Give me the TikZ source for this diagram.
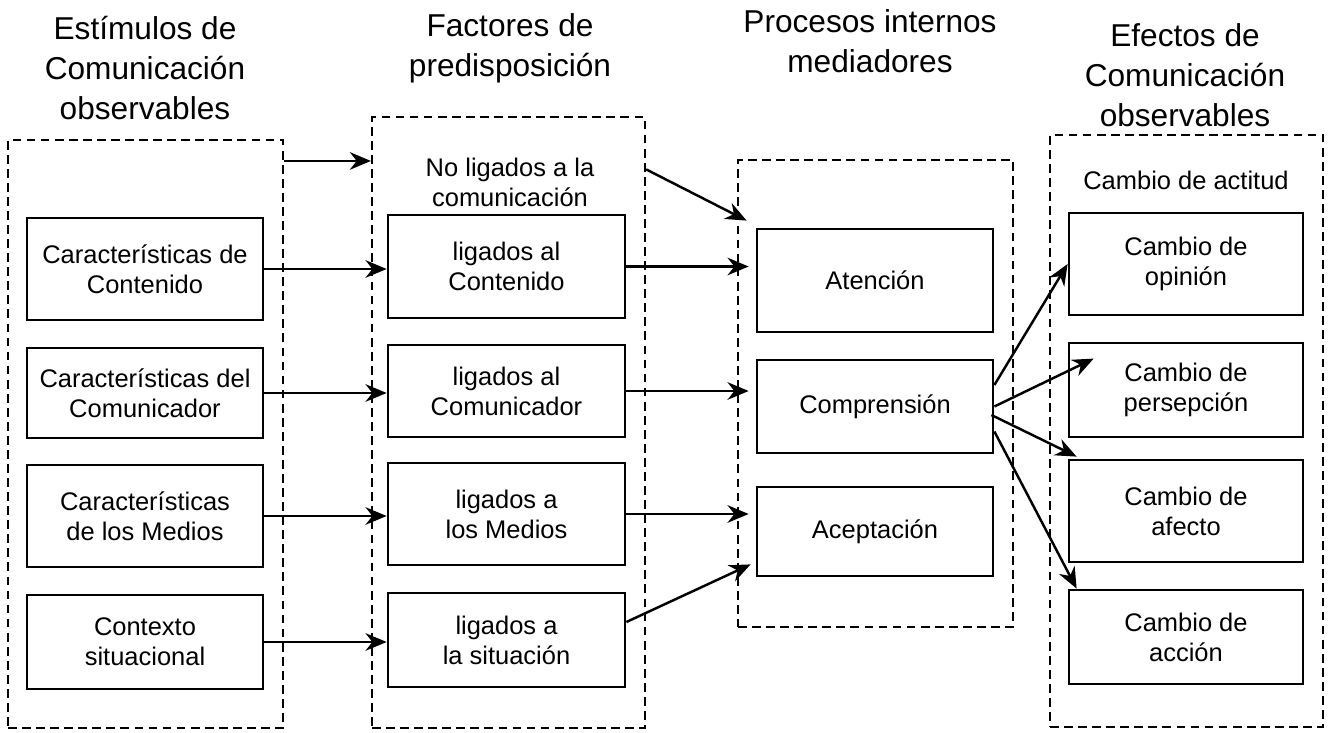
\documentclass[tikz,border=0pt]{standalone}
\usepackage{fontspec}
\setmainfont{Liberation Sans}
\usetikzlibrary{arrows.meta}

\tikzset{grupo/.style={draw, dash pattern=on 5pt off 3pt, line width=1.25pt, inner sep=0pt},
    caja/.style={draw, line width=1.6pt, minimum width=4.72cm, minimum height=#1, align=center, inner sep=0pt,
        font=\fontsize{14.5}{17}\selectfont},
    caja/.default=2cm,
    titulo/.style={align=center, inner sep=0pt, font=\fontsize{18}{22.8}\selectfont},
    texto/.style={align=center, inner sep=0pt, font=\fontsize{14.5}{17}\selectfont},
    flecha/.style={-{Stealth[length=12pt,width=10pt]}, line width=1.4pt}}

\begin{document}
\begin{tikzpicture}[x=0.02cm, y=-0.02cm]
\useasboundingbox (0,0) rectangle (1332,733);

\node[titulo] (t1) at (145, 68) {Estímulos de\\Comunicación\\observables};
\node[titulo] (t2) at (510, 48) {Factores de\\predisposición};
\node[titulo] (t3) at (870, 41) {Procesos internos\\mediadores};
\node[titulo] (t4) at (1185, 75) {Efectos de\\Comunicación\\observables};

\node[grupo, minimum width=5.5cm, minimum height=11.76cm] (est) at (145.5, 434) {};
\node[grupo, minimum width=5.46cm, minimum height=12.22cm] (pred) at (508.5, 422.5) {};
\node[grupo, minimum width=5.5cm, minimum height=9.34cm] (proc) at (875.5, 393.5) {};
\node[grupo, minimum width=5.46cm, minimum height=11.84cm] (efec) at (1186.5, 431) {};

\node[caja=2.04cm] (cont) at (145, 269) {Características de\\Contenido};
\node[caja=1.8cm] (comu) at (145, 393) {Características del\\Comunicador};
\node[caja=2.04cm] (medi) at (145, 516) {Características\\de los Medios};
\node[caja=1.88cm] (ctx) at (145, 642) {Contexto\\situacional};

\node[texto] (nolig) at (510, 182) {No ligados a la\\comunicación};
\node[caja=2.06cm, minimum width=4.74cm] (lcont) at (506.5, 266.5) {ligados al\\Contenido};
\node[caja=1.84cm, minimum width=4.74cm] (lcomu) at (506.5, 391) {ligados al\\Comunicador};
\node[caja=2.04cm, minimum width=4.74cm] (lmedi) at (506.5, 514) {ligados a\\los Medios};
\node[caja=1.88cm, minimum width=4.74cm] (lsit) at (506.5, 640) {ligados a\\la situación};

\node[caja=2.06cm] (aten) at (875, 280.5) {Atención};
\node[caja=1.86cm] (compr) at (875, 406.5) {Comprensión};
\node[caja=1.78cm] (acep) at (875, 531.5) {Aceptación};

\node[texto] (actitud) at (1186, 180) {Cambio de actitud};
\node[caja=2.04cm, minimum width=4.68cm] (opin) at (1186, 264) {Cambio de\\opinión};
\node[caja=1.88cm, minimum width=4.68cm] (perc) at (1186, 390) {Cambio de\\persepción};
\node[caja=2.04cm, minimum width=4.68cm] (afec) at (1186, 511) {Cambio de\\afecto};
\node[caja=1.88cm, minimum width=4.68cm] (acci) at (1186, 637) {Cambio de\\acción};

\coordinate (sal) at ([yshift=-0.44cm]est.north east);
\draw[flecha] (sal) -- (sal -| pred.west);
\draw[flecha] (cont.east) -- (cont.east -| lcont.west);
\draw[flecha] (comu.east) -- (comu.east -| lcomu.west);
\draw[flecha] (medi.east) -- (medi.east -| lmedi.west);
\draw[flecha] (ctx.east) -- (ctx.east -| lsit.west);

\path (nolig.north -| pred.east) ++(0,12) coordinate (nlsal);
\draw[flecha] (nlsal) -- ([xshift=-0.18cm,yshift=0.14cm]aten.north west);
\draw[flecha, shorten >=1.4mm] (lcont.east) -- (lcont.east -| aten.west);
\draw[flecha, shorten >=1.4mm] (lcomu.east) -- (lcomu.east -| compr.west);
\draw[flecha, shorten >=1.4mm] (lmedi.east) -- (lmedi.east -| acep.west);
\draw[flecha] ([yshift=0.36cm]lsit.east) -- ([xshift=-0.1cm,yshift=0.26cm]acep.south west);

\draw[flecha] ([yshift=0.43cm]compr.east) -- (opin.west);
\draw[flecha] (compr.east) -- ([xshift=0.52cm,yshift=-0.34cm]perc.north west);
\draw[flecha] ([xshift=-0.06cm,yshift=-0.17cm]compr.east) -- ([xshift=0.18cm,yshift=0.04cm]afec.north west);
\draw[flecha] ([yshift=-0.5cm]compr.east) -- ([xshift=0.18cm]acci.north west);

\end{tikzpicture}
\end{document}
